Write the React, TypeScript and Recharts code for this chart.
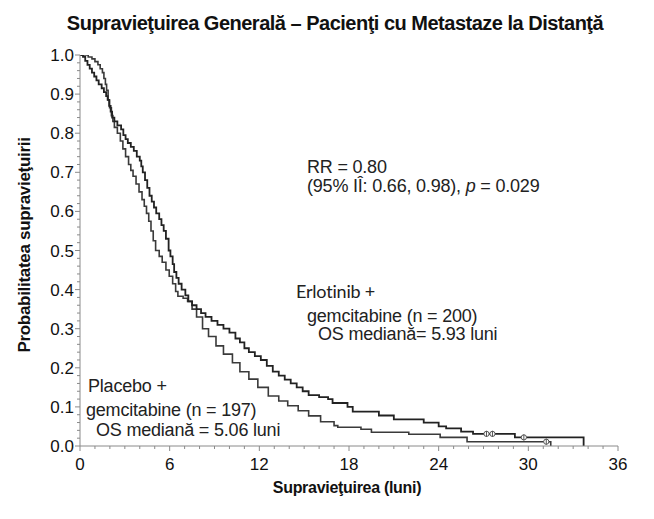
import { ComposedChart, Line, Scatter, XAxis, YAxis } from "recharts";

// Kaplan-Meier steps: [month, survival probability]
const erlotinibCurve: [number, number][] = [
  [0, 1.0], [0.2, 0.995], [0.35, 0.985], [0.5, 0.975], [0.65, 0.965], [0.8, 0.955],
  [0.95, 0.945], [1.1, 0.935], [1.25, 0.925], [1.45, 0.915], [1.6, 0.905], [1.75, 0.895],
  [1.85, 0.885], [1.95, 0.87], [2.05, 0.855], [2.15, 0.84], [2.3, 0.83], [2.5, 0.82],
  [2.75, 0.81], [2.9, 0.795], [3.05, 0.785], [3.2, 0.775], [3.4, 0.765], [3.6, 0.755],
  [3.8, 0.74], [4.0, 0.73], [4.1, 0.715], [4.2, 0.7], [4.35, 0.68], [4.5, 0.66],
  [4.65, 0.64], [4.8, 0.625], [4.95, 0.61], [5.1, 0.595], [5.3, 0.58], [5.45, 0.565],
  [5.6, 0.55], [5.75, 0.53], [5.93, 0.5], [6.05, 0.485], [6.2, 0.465], [6.3, 0.445],
  [6.45, 0.43], [6.6, 0.415], [6.8, 0.4], [7.05, 0.385], [7.25, 0.37], [7.5, 0.36],
  [7.8, 0.35], [8.1, 0.34], [8.4, 0.33], [8.8, 0.32], [9.2, 0.31], [9.6, 0.3],
  [10.0, 0.29], [10.4, 0.275], [10.7, 0.265], [11.0, 0.25], [11.3, 0.24], [11.7, 0.23],
  [12.1, 0.22], [12.5, 0.205], [12.9, 0.19], [13.3, 0.18], [13.7, 0.17], [14.1, 0.16],
  [14.5, 0.15], [14.9, 0.14], [15.3, 0.13], [16.0, 0.125], [16.6, 0.12], [16.9, 0.11],
  [17.9, 0.1], [18.25, 0.088], [20.0, 0.078], [21.0, 0.068], [23.0, 0.06], [24.0, 0.05],
  [24.5, 0.045], [25.5, 0.037], [26.3, 0.031], [29.1, 0.022], [33.7, 0.0],
];

const placeboCurve: [number, number][] = [
  [0, 1.0], [0.55, 0.995], [0.8, 0.99], [1.0, 0.983], [1.2, 0.975], [1.35, 0.965],
  [1.5, 0.955], [1.6, 0.94], [1.7, 0.925], [1.78, 0.91], [1.88, 0.885], [1.98, 0.865],
  [2.1, 0.845], [2.2, 0.83], [2.3, 0.815], [2.5, 0.8], [2.7, 0.78], [2.87, 0.76],
  [3.05, 0.74], [3.25, 0.72], [3.4, 0.705], [3.55, 0.69], [3.75, 0.67], [3.95, 0.65],
  [4.15, 0.63], [4.3, 0.613], [4.45, 0.595], [4.6, 0.575], [4.75, 0.55], [4.9, 0.525],
  [5.06, 0.5], [5.3, 0.485], [5.5, 0.47], [5.75, 0.45], [5.97, 0.434], [6.2, 0.415],
  [6.4, 0.395], [6.55, 0.383], [6.9, 0.378], [7.2, 0.37], [7.5, 0.35], [7.8, 0.33],
  [8.2, 0.3], [8.6, 0.28], [9.1, 0.256], [9.6, 0.235], [10.2, 0.213], [10.7, 0.19],
  [11.3, 0.171], [11.9, 0.15], [12.6, 0.128], [13.3, 0.115], [13.9, 0.103], [14.6, 0.09],
  [15.3, 0.077], [16.1, 0.062], [17.0, 0.052], [17.25, 0.048], [18.8, 0.043], [19.5, 0.035],
  [22.0, 0.03], [24.1, 0.022], [25.9, 0.011], [31.5, 0.0],
];

// censored observations
const erlotinibCensored: [number, number][] = [[27.2, 0.031], [27.6, 0.031], [29.7, 0.022]];
const placeboCensored: [number, number][] = [[31.2, 0.011]];

const xMajorTicks = [0, 6, 12, 18, 24, 30, 36];
const yMajorTicks = [0, 0.1, 0.2, 0.3, 0.4, 0.5, 0.6, 0.7, 0.8, 0.9, 1.0];

const toPoints = (rows: [number, number][]) => rows.map(([t, s]) => ({ t, s }));

// every month on x, every 0.02 on y
const xAllTicks: number[] = [];
for (let m = 0; m <= 36; m++) xAllTicks.push(m);
const yAllTicks: number[] = [];
for (let i = 0; i <= 50; i++) yAllTicks.push(Math.round(i * 2) / 100);

const AXIS = "#8a8a8a";
const FONT = "'Liberation Sans', Arial, sans-serif";

const XTick = ({ x, y, payload }: any) => {
  const major = xMajorTicks.includes(payload.value);
  return (
    <g>
      <line x1={x} x2={x} y1={y} y2={y + (major ? 5 : 3)} stroke={AXIS} strokeWidth={1} />
      {major && (
        <text x={x} y={y + 24} textAnchor="middle" fontSize={17} fontFamily={FONT} fill="#111">
          {payload.value}
        </text>
      )}
    </g>
  );
};

const YTick = ({ x, y, payload }: any) => {
  const major = yMajorTicks.some((v) => Math.abs(v - payload.value) < 1e-6);
  return (
    <g>
      <line x1={x} x2={x - (major ? 5 : 3)} y1={y} y2={y} stroke={AXIS} strokeWidth={1} />
      {major && (
        <text x={x - 6} y={y + 6} textAnchor="end" fontSize={17} fontFamily={FONT} fill="#111">
          {payload.value.toFixed(1)}
        </text>
      )}
    </g>
  );
};

const CensorMark = ({ cx, cy }: any) => (
  <g>
    <circle cx={cx} cy={cy} r={2.6} fill="#fff" stroke="#555" strokeWidth={1} />
    <line x1={cx} x2={cx} y1={cy - 3} y2={cy + 3} stroke="#555" strokeWidth={1} />
  </g>
);

const note = (left: number, top: number, size = 18, family = FONT): React.CSSProperties => ({
  position: "absolute",
  left,
  top,
  fontSize: size,
  fontFamily: family,
  color: "#222",
  whiteSpace: "nowrap",
  lineHeight: 1,
  letterSpacing: -0.2,
});

export default function App() {
  return (
    <div style={{ position: "absolute", left: 0, top: 0, width: 654, height: 519, background: "#fff" }}>
      <ComposedChart width={654} height={519} margin={{ top: 55, right: 36, bottom: 0, left: 0 }}>
        <XAxis
          type="number"
          dataKey="t"
          domain={[0, 36]}
          ticks={xAllTicks}
          interval={0}
          tickSize={0}
          tickMargin={0}
          tick={<XTick />}
          height={73}
          stroke={AXIS}
          allowDataOverflow
        />
        <YAxis
          type="number"
          dataKey="s"
          domain={[0, 1]}
          ticks={yAllTicks}
          interval={0}
          tickSize={0}
          tickMargin={0}
          tick={<YTick />}
          width={80}
          stroke={AXIS}
          allowDataOverflow
        />
        <Line
          data={toPoints(placeboCurve)}
          dataKey="s"
          type="stepAfter"
          stroke="#3a3a3a"
          strokeWidth={1.6}
          dot={false}
          isAnimationActive={false}
        />
        <Line
          data={toPoints(erlotinibCurve)}
          dataKey="s"
          type="stepAfter"
          stroke="#222"
          strokeWidth={1.8}
          dot={false}
          isAnimationActive={false}
        />
        <Scatter data={toPoints(erlotinibCensored)} dataKey="s" shape={<CensorMark />} isAnimationActive={false} />
        <Scatter data={toPoints(placeboCensored)} dataKey="s" shape={<CensorMark />} isAnimationActive={false} />
      </ComposedChart>

      <div
        style={{
          position: "absolute",
          left: 8,
          top: 12,
          width: 654,
          textAlign: "center",
          fontFamily: FONT,
          fontWeight: 700,
          fontSize: 20,
          letterSpacing: -0.5,
          color: "#111",
          whiteSpace: "nowrap",
        }}
      >
        Supravieţuirea Generală – Pacienţi cu Metastaze la Distanţă
      </div>
      <div
        style={{
          position: "absolute",
          left: 25,
          top: 245,
          transform: "translate(-50%, -50%) rotate(-90deg)",
          fontFamily: FONT,
          fontWeight: 700,
          fontSize: 17,
          letterSpacing: -0.3,
          color: "#111",
          whiteSpace: "nowrap",
        }}
      >
        Probabilitatea supravieţuirii
      </div>
      <div
        style={{
          position: "absolute",
          left: 347,
          top: 488,
          transform: "translate(-50%, -50%)",
          fontFamily: FONT,
          fontWeight: 700,
          fontSize: 16,
          letterSpacing: -0.3,
          color: "#111",
          whiteSpace: "nowrap",
        }}
      >
        Supravieţuirea (luni)
      </div>

      <div style={note(307, 158)}>RR = 0.80</div>
      <div style={note(307, 177)}>
        (95% IÎ: 0.66, 0.98), <i>p</i> = 0.029
      </div>
      <div style={note(296, 282, 18, "Lato, 'Open Sans', sans-serif")}>Erlotinib +</div>
      <div style={note(307, 307)}>gemcitabine (n = 200)</div>
      <div style={note(318, 325)}>OS mediană= 5.93 luni</div>
      <div style={note(88, 377)}>Placebo +</div>
      <div style={note(86, 401)}>gemcitabine (n = 197)</div>
      <div style={note(96, 421)}>OS mediană = 5.06 luni</div>
    </div>
  );
}
